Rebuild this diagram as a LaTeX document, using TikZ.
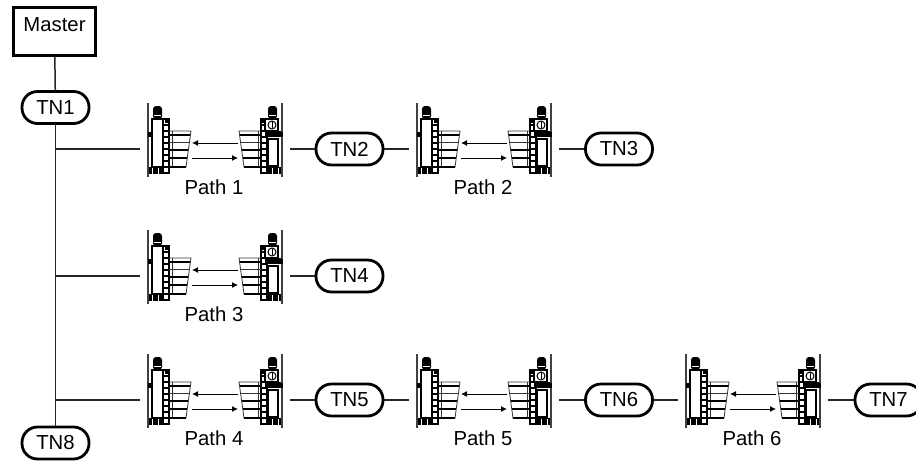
\documentclass[tikz,border=0pt]{standalone}
\usepackage{fontspec}
\setmainfont{Liberation Sans}
\usetikzlibrary{calc,arrows.meta}

% parts that both ends of a link share, drawn from the wall outwards
\newcommand{\linkside}{%
	\draw[line width=2.6pt,black!75] (0,-46) -- (0,28);
	\fill (-0.5,-17) rectangle (3,-12);
	\fill[rounded corners=3pt] (5,-43) rectangle (14,-30);
	\draw[white,line width=.4pt] (6,-34) -- (13,-34);
	\fill (1,18) rectangle (14,25);
	\draw[white,line width=.4pt] (4,19) -- (4,25) (10,19) -- (10,25);
	\draw[rung] (15,-30) rectangle (21,24);
	\foreach \y in {-24,-18,-12,-6,0,6,12,18}
		\draw[rung] (15,\y) -- (21,\y);
	\fill (17,-30) rectangle (21,-26);
	\draw[fin] (21,-18) -- (43,-18) -- (38,18) -- (21,18);
	\draw[fin] (24,-18) -- (24,18);
	\draw[finb] (21,-14) -- (42.4,-14);
	\draw[fin] (21,-7) -- (41.5,-7);
	\draw[finb] (21,1) -- (40.4,1);
	\draw[finb] (21,9) -- (39.3,9);
	\draw[finb] (21,18) -- (38,18);
}

\begin{document}
\begin{tikzpicture}[x=1pt,y=-1pt,
	every node/.style={font=\fontsize{20.3}{24}\selectfont},
	trunk/.style={line width=1.5pt,black!85},
	rung/.style={line width=1.1pt},
	fin/.style={line width=.8pt,black!80},
	finb/.style={line width=1.3pt},
	master/.style={draw,line width=3pt,minimum width=82pt,minimum height=48pt,
		inner sep=0pt,text height=14pt,text depth=14pt},
	tn/.style={draw,line width=2.8pt,rounded corners=15.5pt,minimum width=67pt,
		minimum height=32pt,inner sep=0pt,fill=white},
	beam/.style={-{Latex[length=6pt,width=6pt]},line width=1pt},
	pics/link/.style={code={
		\linkside
		\draw[line width=2pt,fill=white] (4,-30) rectangle (15,18);
		\begin{scope}[shift={(134,0)},xscale=-1]
			\linkside
			\draw[line width=2pt,fill=white] (4,-10) rectangle (14,17);
			\draw[line width=1.6pt,fill=white] (4,-30) rectangle (17,-18);
			\draw[line width=1pt] (10,-24) circle (4);
			\draw[line width=1pt] (10,-27) -- (10,-21);
			\fill (1,-18) rectangle (17,-12);
		\end{scope}
		\coordinate (-in) at (-8,0);
		\coordinate (-out) at (142,0);
		\coordinate (-ra) at (90,-6);
		\coordinate (-la) at (44,-6);
		\coordinate (-lb) at (44,9);
		\coordinate (-rb) at (90,9);
		\draw[beam] (-ra) -- (-la);
		\draw[beam] (-lb) -- (-rb);
		\node (-name) at (66,38) {#1};
	}},
	]
	\useasboundingbox (0,0) rectangle (916,461);

	\node[master] (master) at (54.5,31.5) {Master};
	\node[tn] (tn1) at (55.5,107.5) {TN1};
	\node[tn] (tn8) at (55.5,443) {TN8};
	\draw[trunk] (master) -- (tn1);
	\draw[trunk] (tn1) -- (tn8);

	\pic (p1) at (148,149) {link={Path 1}};
	\pic (p2) at (417,149) {link={Path 2}};
	\pic (p3) at (148,276) {link={Path 3}};
	\pic (p4) at (148,400) {link={Path 4}};
	\pic (p5) at (417,400) {link={Path 5}};
	\pic (p6) at (686,400) {link={Path 6}};

	\node[tn] (tn2) at (349.5,149) {TN2};
	\node[tn] (tn3) at (619,149) {TN3};
	\node[tn] (tn4) at (349.5,276) {TN4};
	\node[tn] (tn5) at (349.5,400) {TN5};
	\node[tn] (tn6) at (619,400) {TN6};
	\node[tn] (tn7) at (888.5,400) {TN7};

	\coordinate (b1) at (54.5,149);
	\coordinate (b3) at (54.5,276);
	\coordinate (b4) at (54.5,400);

	\draw[trunk] (b1) -- (p1-in);
	\draw[trunk] (p1-out) -- (tn2);
	\draw[trunk] (tn2) -- (p2-in);
	\draw[trunk] (p2-out) -- (tn3);
	\draw[trunk] (b3) -- (p3-in);
	\draw[trunk] (p3-out) -- (tn4);
	\draw[trunk] (b4) -- (p4-in);
	\draw[trunk] (p4-out) -- (tn5);
	\draw[trunk] (tn5) -- (p5-in);
	\draw[trunk] (p5-out) -- (tn6);
	\draw[trunk] (tn6) -- (p6-in);
	\draw[trunk] (p6-out) -- (tn7);
\end{tikzpicture}
\end{document}
